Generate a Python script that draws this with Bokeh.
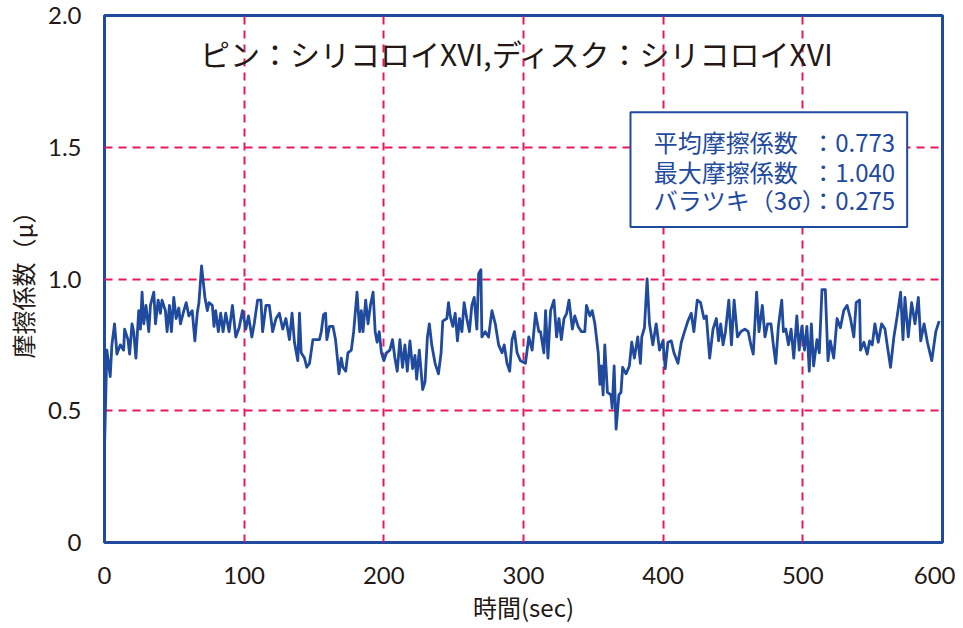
from bokeh.plotting import figure
from bokeh.models import Label, BoxAnnotation, FixedTicker, Range1d
from bokeh.embed import file_html
from bokeh.resources import INLINE

# friction test trace
time_s = [0, 1.7, 4.1, 5.3, 7.2, 8.9, 11.3, 13.7, 14.4, 16.8, 18.0, 19.7, 20.9, 22.5, 24.5, 25.7,
          26.9, 28.1, 29.7, 31.7, 32.9, 35.3, 36.5, 38.4, 40.0, 41.2, 43.6, 44.8, 46.5, 47.9, 49.6,
          51.3, 53.2, 54.4, 56.8, 58.5, 60.4, 62.8, 64.7, 66.4, 67.6, 69.5, 71.9, 73.6, 74.8, 77.2,
          78.4, 79.6, 81.5, 83.2, 84.9, 86.8, 89.2, 91.6, 94.0, 96.4, 98.8, 101.2, 103.1, 105.5,
          107.2, 109.6, 112.0, 113.2, 115.6, 118.0, 120.4, 122.8, 125.2, 127.6, 129.9, 132.4, 134.3,
          136.0, 138.4, 139.6, 140.8, 143.2, 144.8,
          146.8, 149.2, 153.9, 155.2, 156.8, 158.3, 159.2, 161.1, 163.6, 165.4, 167.9, 169.5, 170.7,
          172.7, 174.3, 176.7, 178.4, 180.8, 182.7, 183.9, 185.1, 187.0, 188.7, 190.4, 192.3, 193.8,
          195.2, 196.7, 198.3, 200.0, 201.9, 204.3, 206.2, 207.9, 209.6, 211.5, 213.4, 215.1, 216.8,
          218.7, 220.6, 222.3, 223.5, 225.4, 227.8, 229.5, 231.2, 232.6, 234.3, 236.7, 239.1, 241.0,
          242.2, 245.1, 246.3, 247.5, 249.4, 251.1, 252.7, 254.2, 255.9, 257.5, 259.4, 261.3, 263.0,
          264.7, 266.6, 267.9, 269.5, 270.2, 272.6, 275.0, 277.4, 279.8, 282.2, 284.6, 286.2, 288.2,
          290.1, 291.8, 293.5, 295.4, 297.8,
          301.4, 303.8, 306.2, 308.6, 311.0, 312.2, 314.6, 315.8, 317.5, 319.4, 321.8, 323.7, 325.4,
          327.1, 329.0, 330.9, 332.6, 335.0, 336.7, 339.1, 341.5, 343.9, 345.1, 347.5, 349.2, 351.1,
          353.5, 354.7, 355.8, 357.0, 358.2, 360.1, 362.6, 363.5, 364.9, 366.3, 368.3, 369.8, 371.0,
          373.4, 375.8, 377.5, 379.4, 381.8, 383.7, 384.7, 386.6, 388.5, 390.2, 392.6, 395.0, 397.4,
          399.8, 401.5, 403.4, 405.8, 407.7, 410.6, 413.0, 415.3, 417.7, 420.1, 422.0, 424.4, 426.8,
          429.2, 430.9, 433.3, 435.7, 438.1, 439.7, 441.2, 442.9, 444.6, 447.0, 448.9, 450.8, 453.2,
          455.6,
          458.5, 460.9, 462.8, 464.5, 466.9, 468.6, 471.0, 472.9, 474.8, 477.2, 478.9, 480.6, 482.5,
          484.9, 486.1, 487.8, 489.7, 491.6, 493.5, 495.7, 497.4, 499.3, 501.2, 502.9, 504.6, 506.1,
          507.7, 510.1, 511.8, 513.7, 516.1, 518.0, 519.7, 522.1, 524.5, 526.9, 529.3, 531.7, 534.1,
          536.5, 538.2, 540.6, 541.3, 543.7, 546.1, 547.8, 549.7, 551.6, 554.0, 556.4, 558.8, 560.4,
          562.8, 565.2, 567.6, 570.0, 571.7, 573.1, 575.5, 577.9, 580.3, 582.7, 584.4, 586.8, 589.2,
          592.3, 595.2, 597.6]

mu = [0.36, 0.73, 0.63, 0.75, 0.83, 0.715, 0.75, 0.73, 0.81, 0.77, 0.715, 0.83, 0.80, 0.70, 0.88, 0.81,
      0.95, 0.83, 0.90, 0.80, 0.90, 0.95, 0.83, 0.92, 0.87, 0.92, 0.88, 0.80, 0.90, 0.80, 0.93,
      0.85, 0.89, 0.83, 0.88, 0.91, 0.86, 0.88, 0.765, 0.87, 0.91, 1.05, 0.93, 0.88, 0.91, 0.90,
      0.82, 0.88, 0.80, 0.87, 0.80, 0.87, 0.80, 0.90, 0.78, 0.815, 0.88, 0.81, 0.86, 0.78,
      0.83, 0.92, 0.92, 0.80, 0.90, 0.90, 0.80, 0.85, 0.87, 0.81, 0.85, 0.77, 0.87,
      0.76, 0.69, 0.87, 0.72, 0.70, 0.665,
      0.68, 0.77, 0.77, 0.80, 0.865, 0.87, 0.77, 0.82, 0.82, 0.77, 0.64, 0.70, 0.665,
      0.65, 0.72, 0.73, 0.80, 0.95, 0.80, 0.88, 0.80, 0.92, 0.83, 0.90, 0.95, 0.80,
      0.76, 0.80, 0.72, 0.69, 0.72, 0.73, 0.77, 0.70, 0.65, 0.77, 0.665, 0.75, 0.65,
      0.765, 0.66, 0.71, 0.62, 0.73, 0.58, 0.61, 0.78, 0.83, 0.75, 0.68, 0.64, 0.72,
      0.84, 0.85, 0.91, 0.86, 0.82, 0.87, 0.765, 0.85, 0.80, 0.91, 0.85, 0.80, 0.90,
      0.93, 0.81, 1.02, 1.035, 0.78, 0.80, 0.78, 0.88, 0.83, 0.75, 0.72, 0.75, 0.68,
      0.65, 0.77, 0.80, 0.72, 0.69,
      0.68, 0.78, 0.73, 0.87, 0.80, 0.80, 0.72, 0.88, 0.70, 0.88, 0.92, 0.78, 0.85,
      0.77, 0.85, 0.87, 0.92, 0.81, 0.86, 0.82, 0.80, 0.80, 0.90, 0.86, 0.88, 0.83,
      0.72, 0.60, 0.67, 0.56, 0.75, 0.57, 0.56, 0.51, 0.67, 0.43, 0.56, 0.57, 0.665,
      0.64, 0.67, 0.76, 0.70, 0.78, 0.68, 0.78, 0.815, 1.0, 0.83, 0.75, 0.83, 0.73,
      0.765, 0.66, 0.76, 0.765, 0.72, 0.68, 0.76, 0.80, 0.84, 0.87, 0.80, 0.92, 0.91,
      0.85, 0.86, 0.70, 0.81, 0.85, 0.765, 0.83, 0.75, 0.80, 0.92, 0.75, 0.92, 0.78,
      0.80,
      0.81, 0.80, 0.75, 0.715, 0.95, 0.80, 0.90, 0.78, 0.83, 0.83, 0.75, 0.68, 0.82,
      0.92, 0.80, 0.81, 0.75, 0.81, 0.70, 0.86, 0.73, 0.82, 0.73, 0.82, 0.65, 0.83,
      0.67, 0.77, 0.72, 0.96, 0.96, 0.69, 0.765, 0.70, 0.85, 0.815, 0.88, 0.90, 0.85,
      0.78, 0.91, 0.92, 0.73, 0.76, 0.715, 0.765, 0.75, 0.83, 0.76, 0.83, 0.81, 0.75,
      0.665, 0.78, 0.86, 0.95, 0.77, 0.93, 0.78, 0.91, 0.83, 0.93, 0.765, 0.83, 0.76,
      0.69, 0.80, 0.84]

title_text = "ピン：シリコロイXVI,ディスク：シリコロイXVI"
x_title = "時間(sec)"
y_title = "摩擦係数（μ）"
stat_names = ["平均摩擦係数", "最大摩擦係数", "バラツキ（3σ）"]
stat_values = ["0.773", "1.040", "0.275"]
x_ticks = [0, 100, 200, 300, 400, 500, 600]
y_ticks = [0, 0.5, 1, 1.5, 2]
y_tick_labels = {0: "0", 0.5: "0.5", 1: "1.0", 1.5: "1.5", 2: "2.0"}

JP = "Noto Sans CJK JP"
NUM = "Lato"
BLUE = "#1f4a9e"
INK = "#231815"

p = figure(width=955, height=626, x_range=Range1d(0, 600), y_range=Range1d(0, 2),
           output_backend="svg", toolbar_location=None,
           min_border_left=104, min_border_right=13, min_border_top=15, min_border_bottom=84)

p.outline_line_color = BLUE
p.outline_line_width = 3

# grid, only inside the frame
p.xgrid.ticker = FixedTicker(ticks=x_ticks[1:-1])
p.ygrid.ticker = FixedTicker(ticks=y_ticks[1:-1])
p.grid.grid_line_color = "#e6195c"
p.grid.grid_line_width = 2
p.grid.grid_line_dash = "8 6"

p.xaxis.ticker = FixedTicker(ticks=x_ticks)
p.yaxis.ticker = FixedTicker(ticks=y_ticks)
p.yaxis.major_label_overrides = y_tick_labels
for ax in (p.xaxis, p.yaxis):
    ax.axis_line_color = None
    ax.major_tick_line_color = None
    ax.minor_tick_line_color = None
    ax.major_label_text_font = NUM
    ax.major_label_text_font_size = "24px"
    ax.major_label_text_color = INK
    ax.axis_label_text_font = JP
    ax.axis_label_text_font_size = "24px"
    ax.axis_label_text_font_style = "normal"
    ax.axis_label_text_color = INK

p.xaxis.axis_label = x_title
p.xaxis.major_label_standoff = 18
p.xaxis.axis_label_standoff = 2
p.yaxis.axis_label = y_title
p.yaxis.major_label_standoff = 17
p.yaxis.axis_label_standoff = 5

p.line(time_s, mu, line_color=BLUE, line_width=2.8, line_join="round")

p.add_layout(Label(x=295.7, y=1.856, text=title_text, text_align="center",
                   text_baseline="middle", text_font=JP, text_font_size="30px",
                   text_color=INK))

p.add_layout(BoxAnnotation(left=376.6, right=574.7, bottom=1.197, top=1.633,
                           fill_color="white", fill_alpha=1.0,
                           line_color=BLUE, line_width=2, line_alpha=1.0))

row_y = [1.522, 1.408, 1.302]
for name, val, yy in zip(stat_names, stat_values, row_y):
    p.add_layout(Label(x=393.3, y=yy, text=name, text_baseline="middle",
                       text_font=JP, text_font_size="24px", text_color=BLUE))
    p.add_layout(Label(x=506, y=yy, text="：" + val, text_baseline="middle",
                       text_font=JP, text_font_size="24px", text_color=BLUE))

open("out.html", "w").write(file_html(p, INLINE))
